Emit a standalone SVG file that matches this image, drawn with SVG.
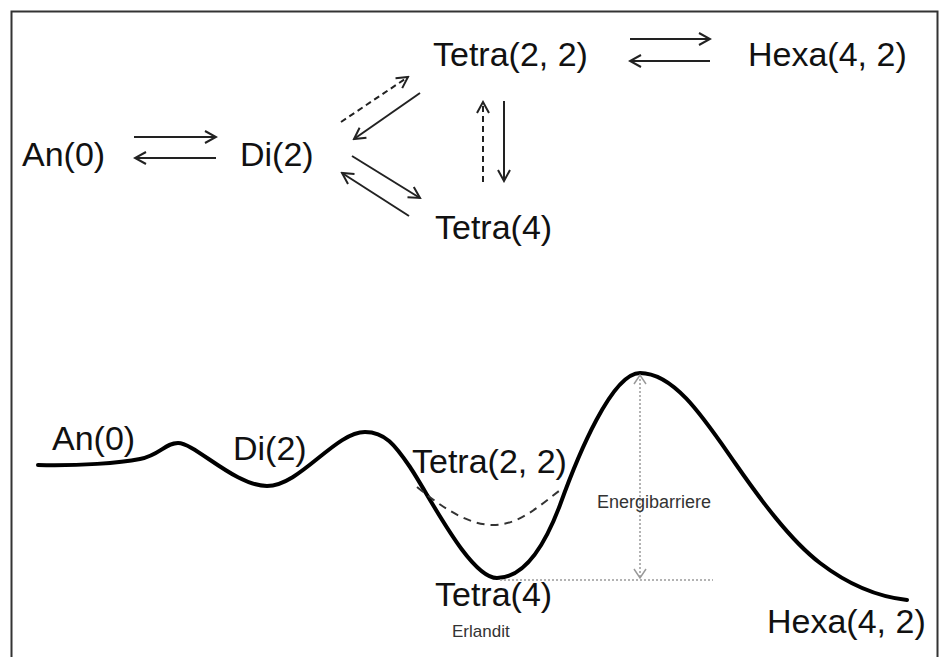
<svg xmlns="http://www.w3.org/2000/svg" width="944" height="657" viewBox="0 0 944 657">
<style>
.lbl{font-family:"Liberation Sans",Arial,sans-serif;font-size:34px;fill:#111}
.sm{font-family:"Liberation Sans",Arial,sans-serif;font-size:18px;fill:#333}
.xs{font-family:"Liberation Sans",Arial,sans-serif;font-size:17px;fill:#333}
.arr{stroke:#222;stroke-width:2;fill:none}
.dash{stroke-dasharray:6,4}
.dot{stroke:#9a9a9a;stroke-width:1.5;stroke-dasharray:2,2;fill:none}
</style>
<defs>
<marker id="ah" viewBox="-13 -8 15 16" markerWidth="15" markerHeight="16" refX="0" refY="0" markerUnits="userSpaceOnUse" orient="auto-start-reverse">
<path d="M-11,-6 L0,0 L-11,6" fill="none" stroke="#222" stroke-width="2"/>
</marker>
<marker id="ahg" viewBox="-11 -8 13 16" markerWidth="13" markerHeight="16" refX="0" refY="0" markerUnits="userSpaceOnUse" orient="auto-start-reverse">
<path d="M-9,-6 L0,0 L-9,6" fill="none" stroke="#999" stroke-width="1.5"/>
</marker>
</defs>
<rect x="0" y="0" width="944" height="657" fill="#fff"/>
<rect x="11.5" y="11.5" width="926" height="700" fill="none" stroke="#333" stroke-width="2"/>

<g id="top-an0"><text class="lbl" x="22" y="166">An(0)</text></g>
<g id="top-di2"><text class="lbl" x="240" y="166">Di(2)</text></g>
<g id="top-tetra22"><text class="lbl" x="433" y="66">Tetra(2, 2)</text></g>
<g id="top-hexa42"><text class="lbl" x="748" y="66">Hexa(4, 2)</text></g>
<g id="top-tetra4"><text class="lbl" x="435" y="239">Tetra(4)</text></g>

<g id="connectors">
<line class="arr" x1="134" y1="137" x2="216" y2="137" marker-end="url(#ah)"/>
<line class="arr" x1="216" y1="158" x2="135" y2="158" marker-end="url(#ah)"/>
<line class="arr" x1="630" y1="39" x2="710" y2="39" marker-end="url(#ah)"/>
<line class="arr" x1="710" y1="61" x2="630" y2="61" marker-end="url(#ah)"/>
<line class="arr dash" x1="341" y1="122" x2="408" y2="77" marker-end="url(#ah)"/>
<line class="arr" x1="420" y1="93" x2="354" y2="139" marker-end="url(#ah)"/>
<line class="arr" x1="352" y1="156" x2="420" y2="198" marker-end="url(#ah)"/>
<line class="arr" x1="409" y1="216" x2="342" y2="173" marker-end="url(#ah)"/>
<line class="arr dash" x1="483" y1="182" x2="483" y2="102" marker-end="url(#ah)"/>
<line class="arr" x1="504" y1="101" x2="504" y2="181" marker-end="url(#ah)"/>
</g>

<g id="energy-curve">
<path d="M38,465 C80,466 120,463 140,459 C160,455 165,443 178,443 C195,443 235,486 267,486 C300,486 335,432 365,432 C385,432 395,445 410,467 C430,497 470,578 497,578 C525,578 545,545 560,505 C578,455 612,373 640,373 C675,373 705,420 735,463 C760,499 790,540 820,563 C850,586 880,597 907,600" fill="none" stroke="#000" stroke-width="4" stroke-linecap="round"/>
<path d="M417,487 C445,510 470,525 493,525 C520,525 540,505 563,488" fill="none" stroke="#333" stroke-width="2" stroke-dasharray="8,6"/>
<line class="dot" x1="500" y1="580" x2="713" y2="580"/>
<line class="dot" x1="640" y1="375" x2="640" y2="578" marker-start="url(#ahg)" marker-end="url(#ahg)"/>
</g>

<g id="bot-an0"><text class="lbl" x="52" y="450">An(0)</text></g>
<g id="bot-di2"><text class="lbl" x="233" y="460">Di(2)</text></g>
<g id="bot-tetra22"><text class="lbl" x="412" y="473">Tetra(2, 2)</text></g>
<g id="bot-tetra4"><text class="lbl" x="435" y="606">Tetra(4)</text><text class="xs" x="452" y="637">Erlandit</text></g>
<g id="bot-hexa42"><text class="lbl" x="767" y="633">Hexa(4, 2)</text></g>
<g id="energibarriere"><text class="sm" x="597" y="508">Energibarriere</text></g>
</svg>
